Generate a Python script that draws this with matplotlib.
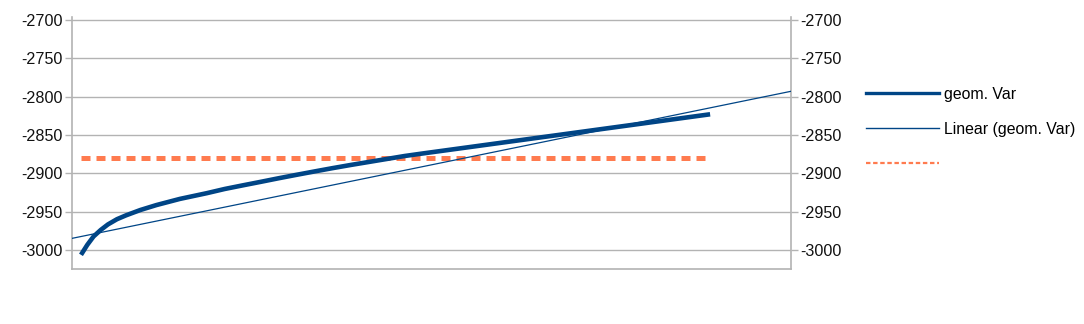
import matplotlib
matplotlib.use("Agg")
import matplotlib.pyplot as plt
from matplotlib.lines import Line2D
import numpy as np

plt.rcParams["font.family"] = ["Liberation Sans", "DejaVu Sans"]
plt.rcParams["axes.unicode_minus"] = False

# values (x in category units, axis spans 0..40)
x = [0.5, 0.85, 1.2, 1.6, 2.0, 2.5, 3.0, 3.8, 4.7, 6.0,
     7.5, 8.5, 9.5, 10.5, 11.5, 12.5, 13.5, 14.5, 15.5, 16.5,
     17.5, 18.5, 19.5, 20.5, 21.5, 22.5, 23.5, 24.5, 25.5, 26.5,
     27.5, 28.5, 29.5, 30.5, 31.5, 32.5, 33.5, 34.5, 35.5]
geom_var = [-3006.5, -2993.5, -2982.5, -2974, -2966.8, -2960, -2955, -2948, -2941.5, -2933.5,
            -2926, -2920.5, -2915.8, -2911.2, -2906.5, -2902, -2897.6, -2893.3, -2889.2, -2885.3,
            -2881.4, -2877.5, -2874.2, -2871, -2867.8, -2864.6, -2861.4, -2858.2, -2855, -2851.8,
            -2848.6, -2845.4, -2842.2, -2839, -2835.8, -2832.6, -2829.4, -2826.2, -2823]
ref_level = -2880
# linear trend as drawn in the reference (value at x=0 and slope per category)
trend_intercept = -2985
trend_slope = 4.8

blue = "#004586"
coral = "#ff7b4f"
grey = "#b3b3b3"

fig = plt.figure(figsize=(10.84, 3.24), dpi=100)
ax = fig.add_axes([72 / 1084, 1 - 269 / 324, (791 - 72) / 1084, (269 - 17) / 324])

ax.plot(x, geom_var, color=blue, lw=3.3, solid_capstyle="butt", solid_joinstyle="round", zorder=3)
xt = np.array([0, 40])
ax.plot(xt, trend_intercept + trend_slope * xt, color=blue, lw=0.9, zorder=4)
ax.plot([x[0], x[-1]], [ref_level, ref_level], color=coral, lw=3.6, dashes=(1.8, 1.2), zorder=2)

ax.set_xlim(0, 40)
ax.set_ylim(-3025, -2696)
ax.set_yticks(np.arange(-3000, -2699, 50))
ax.set_xticks([])
ax.yaxis.grid(True, color=grey, lw=1)
ax.set_axisbelow(True)
ax.tick_params(axis="y", left=True, right=True, labelleft=True, labelright=True,
               length=5, width=1, color=grey, pad=2, labelsize=11.6, labelcolor="#111111")
for s in ["left", "right", "bottom"]:
    ax.spines[s].set_color(grey)
    ax.spines[s].set_linewidth(1.2)
ax.spines["top"].set_visible(False)

handles = [Line2D([], [], color=blue, lw=2.4),
           Line2D([], [], color=blue, lw=1.0),
           Line2D([], [], color=coral, lw=1.6, dashes=(2.0, 1.2))]
labels = ["geom. Var", "Linear (geom. Var)", " "]
ax.legend(handles, labels, loc="upper left", bbox_to_anchor=(866 / 1084, 1 - 87 / 324),
          bbox_transform=fig.transFigure, frameon=False, fontsize=11.4,
          handlelength=4.6, handletextpad=0.3, labelspacing=1.25, borderpad=0,
          borderaxespad=0)

plt.savefig("out.png", dpi=100)
